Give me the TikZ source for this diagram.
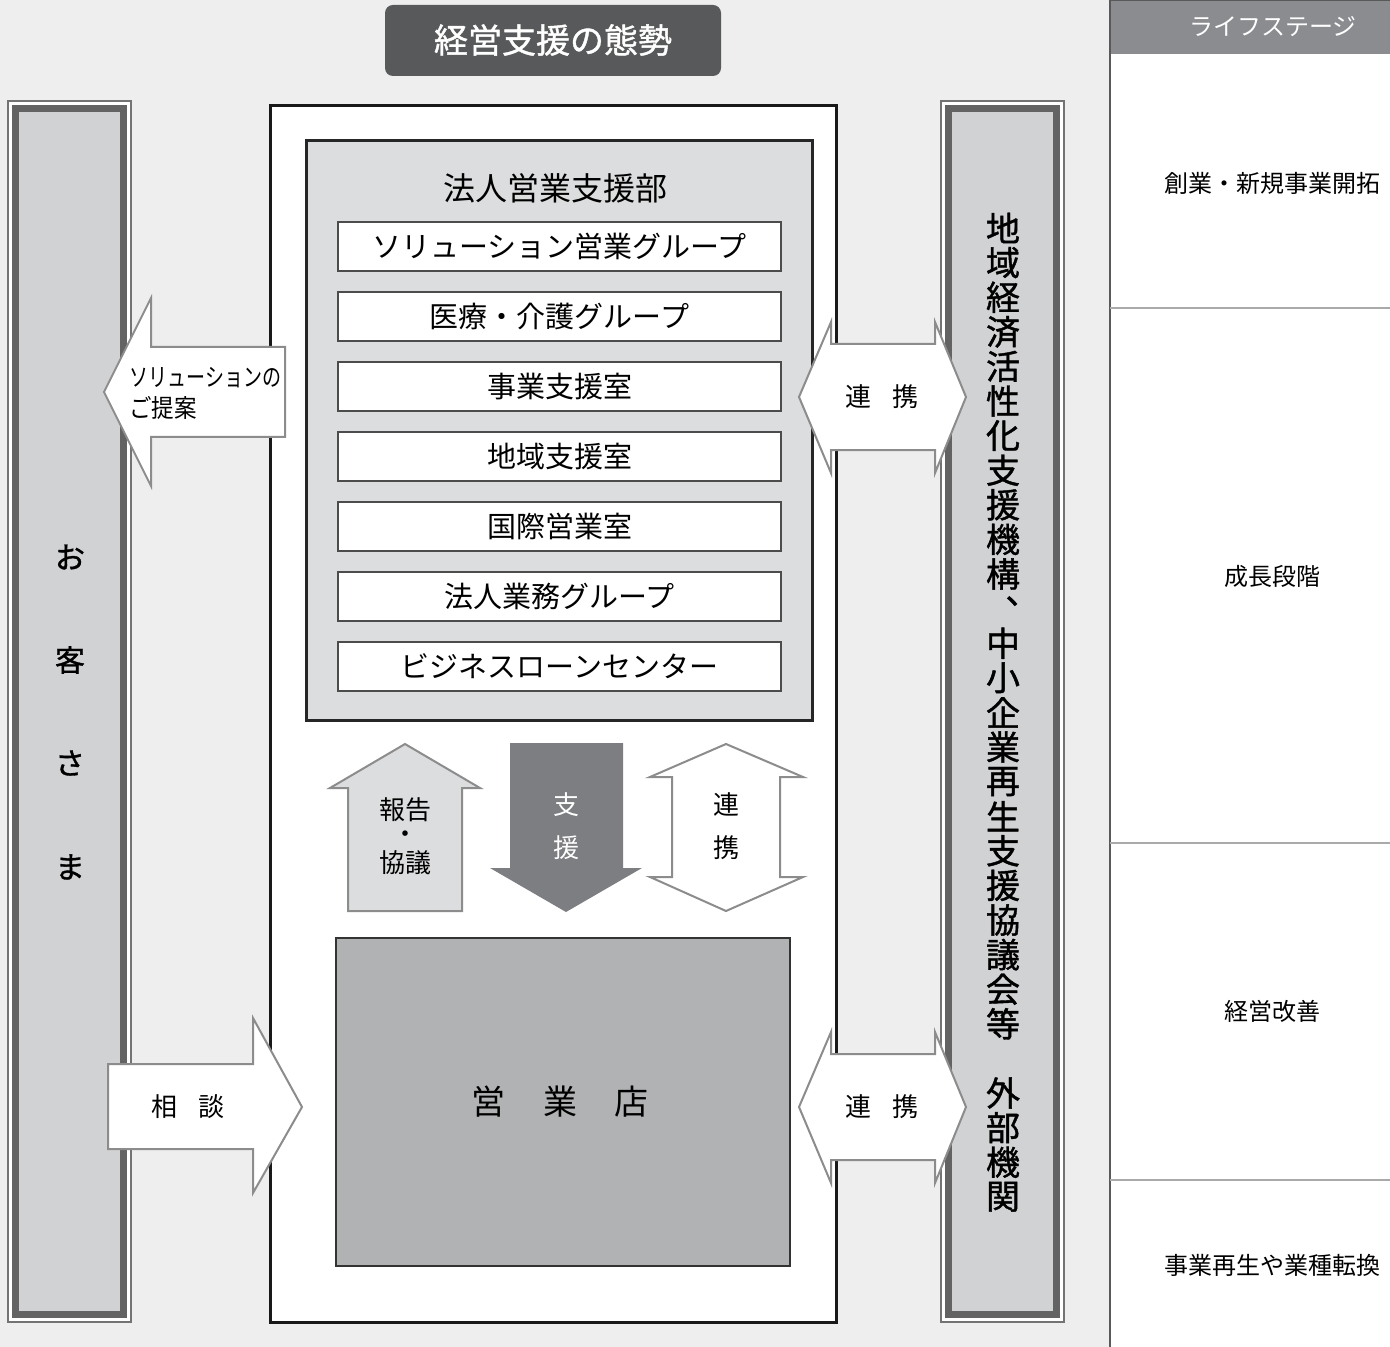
\documentclass[tikz,border=0pt]{standalone}
\usepackage{fontspec}
\setmainfont{Noto Sans CJK JP}
\newfontfamily\boldcjk[FakeBold=1.2]{Noto Sans CJK JP}
\usepackage{graphicx}
\definecolor{bg}{HTML}{EEEEEE}
\definecolor{hdr}{HTML}{8B8C90}
\definecolor{titlefill}{HTML}{58595B}
\definecolor{band}{HTML}{636363}
\definecolor{colfill}{HTML}{D1D2D4}
\definecolor{deptfill}{HTML}{DCDDDF}
\definecolor{shopfill}{HTML}{B1B2B4}
\definecolor{supfill}{HTML}{7D7E82}
\definecolor{arrline}{HTML}{8C8C8C}
\definecolor{divline}{HTML}{AAAAAA}
\tikzset{
  arrowshape/.style={draw=arrline, line width=1pt, line join=miter},
  subbox/.style={draw=black!70, line width=0.6pt, fill=white},
  lbl/.style={inner sep=0pt, font=\fontsize{13pt}{15pt}\selectfont},
  stage/.style={inner sep=0pt, font=\fontsize{12pt}{14pt}\selectfont},
  subtxt/.style={inner sep=0pt, font=\fontsize{14.5pt}{17pt}\selectfont},
  vtxt/.style={inner sep=0pt, font=\boldcjk\fontsize{17pt}{20pt}\selectfont},
}
\begin{document}
\begin{tikzpicture}[x=0.5pt,y=-0.5pt]
\useasboundingbox (0,0) rectangle (1390,1347);
% backgrounds
\fill[bg] (0,0) rectangle (1110,1347);
\fill[white] (1110,0) rectangle (1390,1347);
\fill[hdr] (1110,0) rectangle (1390,54);
\draw[black!65, line width=0.8pt] (1110,0) -- (1110,1347);
\draw[black!65, line width=0.8pt] (1110,0) -- (1390,0);
\foreach \yy in {308,843,1180} \draw[divline, line width=0.6pt] (1110,\yy) -- (1390,\yy);
\node[stage, text=white] (ls) at (1273,27) {ライフステージ};
\node[stage] (s1) at (1272,183) {創業・新規事業開拓};
\node[stage] (s2) at (1272,576) {成長段階};
\node[stage] (s3) at (1272,1011) {経営改善};
\node[stage] (s4) at (1272,1265) {事業再生や業種転換};

% title
\fill[titlefill, rounded corners=4pt] (385,5) rectangle (721,76);
\node[inner sep=0pt, text=white, font=\boldcjk\fontsize{17pt}{20pt}\selectfont] (title) at (553,40) {経営支援の態勢};

% left column
\draw[black!55, line width=0.9pt, fill=white] (8,101) rectangle (131,1322);
\fill[band] (12,105) rectangle (127,1318);
\fill[colfill] (19,112) rectangle (120,1311);
\foreach \ch/\yy [count=\i] in {お/557,客/660,さ/763,ま/867}
  \node[inner sep=0pt, font=\boldcjk\fontsize{15pt}{18pt}\selectfont] (cust\i) at (70,\yy) {\ch};

% right column
\draw[black!55, line width=0.9pt, fill=white] (941,101) rectangle (1064,1322);
\fill[band] (945,105) rectangle (1060,1318);
\fill[colfill] (952,112) rectangle (1053,1311);
\foreach \ch [count=\i] in {地,域,経,済,活,性,化,支,援,機,構,{},中,小,企,業,再,生,支,援,協,議,会,等,{},外,部,機,関}
  \node[vtxt] (ext\i) at (1003,{228+(\i-1)*34.6}) {\ch};
\node[vtxt, anchor=base west, text height=4pt, text depth=1pt] (extcomma) at (1005,604) {\symbol{"3001}};

% central white box
\draw[black!90, line width=1.5pt, fill=white] (270,106) rectangle (836,1322);

% department box
\draw[black!85, line width=1.5pt, fill=deptfill] (306,141) rectangle (812,720);
\node[inner sep=0pt, font=\fontsize{16pt}{19pt}\selectfont] (dept) at (555,188) {法人営業支援部};
\foreach \t [count=\i] in {ソリューション営業グループ,医療・介護グループ,事業支援室,地域支援室,国際営業室,法人業務グループ,ビジネスローンセンター}{
  \draw[subbox] (338,{222+(\i-1)*70}) rectangle (781,{271+(\i-1)*70});
  \node[subtxt] (sub\i) at (559.5,{246.5+(\i-1)*70}) {\t};
}

% solution proposal arrow (left)
\draw[arrowshape, fill=white] (104,392) -- (151,298) -- (151,347) -- (285,347) -- (285,437) -- (151,437) -- (151,486) -- cycle;
\node[inner sep=0pt, anchor=west, font=\fontsize{12.5pt}{15pt}\selectfont] (prop1) at (129,378) {\scalebox{0.76}[1]{ソリューションの}};
\node[inner sep=0pt, anchor=west, font=\fontsize{12.5pt}{15pt}\selectfont] (prop2) at (129,408) {\scalebox{0.9}[1]{ご提案}};

% top 連携 double arrow
\draw[arrowshape, fill=white] (799,397) -- (831,322) -- (831,344) -- (935,344) -- (935,322) -- (966,397) -- (935,473) -- (935,450) -- (831,450) -- (831,473) -- cycle;
\node[lbl] (coop1) at (882,397) {連\hspace{0.8em}携};

% bottom 連携 double arrow
\draw[arrowshape, fill=white] (799,1107) -- (831,1032) -- (831,1054) -- (935,1054) -- (935,1032) -- (966,1107) -- (935,1183) -- (935,1160) -- (831,1160) -- (831,1183) -- cycle;
\node[lbl] (coop2) at (882,1107) {連\hspace{0.8em}携};

% 相談 arrow
\draw[arrowshape, fill=white] (108,1064) -- (253,1064) -- (253,1018) -- (302,1107) -- (253,1193) -- (253,1149) -- (108,1149) -- cycle;
\node[lbl] (consult) at (188,1107) {相\hspace{0.8em}談};

% 報告・協議 up arrow
\draw[arrowshape, fill=deptfill] (405,744) -- (480,788) -- (462,788) -- (462,911) -- (348,911) -- (348,788) -- (330,788) -- cycle;
\node[lbl] (report1) at (405,810) {報告};
\node[lbl] (report2) at (405,837) {・};
\node[lbl] (report3) at (405,863) {協議};

% 支援 down arrow
\fill[supfill] (510,743) -- (623,743) -- (623,868) -- (642,868) -- (566,912) -- (490,868) -- (510,868) -- cycle;
\node[lbl, text=white] (sup1) at (566,805) {支};
\node[lbl, text=white] (sup2) at (566,848) {援};

% 連携 vertical double arrow
\draw[arrowshape, fill=white] (726,744) -- (803,777) -- (780,777) -- (780,877) -- (803,877) -- (726,911) -- (650,877) -- (672,877) -- (672,777) -- (650,777) -- cycle;
\node[lbl] (coop3a) at (726,805) {連};
\node[lbl] (coop3b) at (726,848) {携};

% 営業店
\draw[black!80, line width=0.6pt, fill=shopfill] (336,938) rectangle (790,1266);
\node[inner sep=0pt, font=\fontsize{17pt}{20pt}\selectfont] (shop) at (560,1102) {営\hspace{1.1em}業\hspace{1.1em}店};
\end{tikzpicture}
\end{document}
